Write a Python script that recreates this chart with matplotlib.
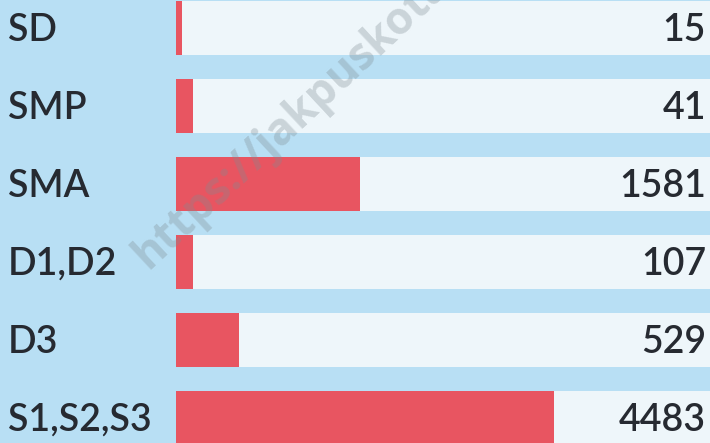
import matplotlib
matplotlib.use("Agg")
import matplotlib.pyplot as plt
from matplotlib.transforms import blended_transform_factory

categories = ["SD", "SMP", "SMA", "D1,D2", "D3", "S1,S2,S3"]
values = [15, 41, 1581, 107, 529, 4483]
# bar length as percent of the track
bar_pct = [1.1, 3.2, 34.5, 3.2, 11.8, 70.8]

BG = "#b8dff4"
TRACK = "#eef6fa"
RED = "#e85561"
TXT = "#262a31"

plt.rcParams['font.family'] = ['Lato', 'DejaVu Sans']

fig = plt.figure(figsize=(7.10, 4.43), dpi=100, facecolor=BG)
ax = fig.add_axes([176/710, 0, 534/710, 1])
ax.set_facecolor(BG)
ax.set_xlim(0, 100)
row_px = 78
ax.set_ylim((443 - 28) / row_px, -28 / row_px)
ys = list(range(len(categories)))
h = 54 / row_px
ax.barh(ys, [100] * len(ys), height=h, color=TRACK, zorder=1)
ax.barh(ys, bar_pct, height=h, color=RED, zorder=2)
for s in ax.spines.values():
    s.set_visible(False)
ax.set_xticks([]); ax.set_yticks([])

tr = blended_transform_factory(ax.transAxes, ax.transData)
for y, c, v in zip(ys, categories, values):
    ax.text((8 - 176) / 534, y + 0.03, c, transform=tr, ha="left", va="center",
            fontsize=27, fontweight="semibold", color=TXT, clip_on=False)
    ax.text((706 - 176) / 534, y + 0.03, str(v), transform=tr, ha="right", va="center",
            fontsize=27, fontweight="semibold", color=TXT, zorder=4)

fig.text(148 / 710, 1 - 270 / 443, "https://jakpuskota", rotation=43, fontsize=32,
         fontweight="bold", family=["Open Sans", "DejaVu Sans"], color="#7f8b92", alpha=0.32,
         ha="left", va="baseline", rotation_mode="anchor", zorder=5)

fig.savefig("out.png", dpi=100, facecolor=BG)
